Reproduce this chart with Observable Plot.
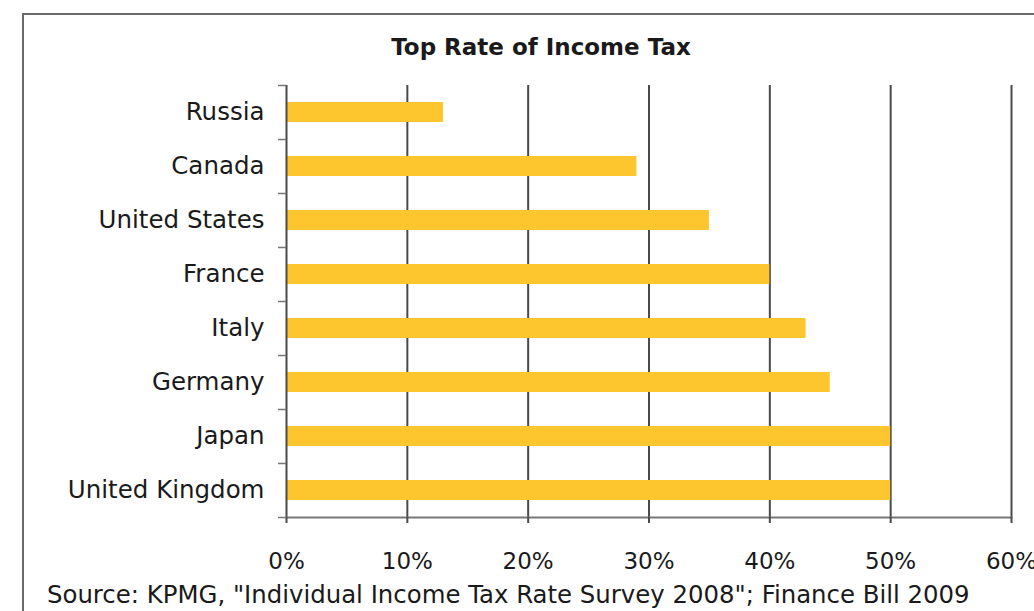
<!DOCTYPE html>
<html>
<head>
<meta charset="utf-8">
<script src="https://cdn.jsdelivr.net/npm/d3@7"></script>
<script src="https://cdn.jsdelivr.net/npm/@observablehq/plot@0.6"></script>
<style>
  html, body { margin: 0; padding: 0; background: #fff; }
  #wrap { position: relative; width: 1034px; height: 611px; overflow: hidden; font-family: "DejaVu Sans", sans-serif; }
  #box { position: absolute; left: 22px; top: 13px; width: 1100px; height: 700px; border: 2px solid #6b6b6b; box-sizing: border-box; }
  #title { position: absolute; left: 0; width: 1082px; top: 34px; text-align: center; font-weight: bold; font-size: 23px; color: #1a1a1a; }
  #chart { position: absolute; left: 0; top: 0; }
  #source { position: absolute; left: 47px; top: 581px; font-size: 24.4px; line-height: 28px; color: #1a1a1a; white-space: nowrap; }
</style>
</head>
<body>
<div id="wrap">
  <div id="box"></div>
  <div id="title">Top Rate of Income Tax</div>
  <div id="chart"></div>
  <div id="source">Source: KPMG, "Individual Income Tax Rate Survey 2008"; Finance Bill 2009</div>
</div>
<script>
const countries = ["Russia", "Canada", "United States", "France", "Italy", "Germany", "Japan", "United Kingdom"];
const rates = [13, 29, 35, 40, 43, 45, 50, 50];
const xTicks = [0, 10, 20, 30, 40, 50, 60];

const data = countries.map((c, i) => ({country: c, rate: rates[i]}));
const barColor = "#fdc62e";
const lineColor = "#4a4a4a";

const chart = Plot.plot({
  width: 1034,
  height: 611,
  marginLeft: 286,
  marginRight: 23,
  marginTop: 85,
  marginBottom: 94,
  style: {fontFamily: "DejaVu Sans, sans-serif", fontSize: "23px", color: "#1a1a1a", background: "transparent"},
  x: {domain: [0, 60]},
  y: {domain: countries, paddingInner: 0.63, paddingOuter: 0.315},
  marks: [
    Plot.gridX(xTicks.slice(1), {stroke: lineColor, strokeOpacity: 1, strokeWidth: 2}),
    Plot.barX(data, {x: "rate", y: "country", fill: barColor}),
    Plot.ruleX([0], {stroke: lineColor, strokeWidth: 2}),
    Plot.frame({anchor: "bottom", stroke: "#777", strokeWidth: 2}),
    Plot.axisX({ticks: xTicks, tickFormat: d => d + "%", tickSize: 6, tickPadding: 29, stroke: lineColor, strokeWidth: 2, label: null, fill: "#1a1a1a"}),
    Plot.axisY({ticks: countries, tickSize: 0, tickPadding: 22, label: null, fill: "#1a1a1a", fontSize: 24.5}),
    Plot.axisY({ticks: countries, tickSize: 8, text: null, dy: -27, stroke: "#777", strokeWidth: 1.5, label: null}),
    Plot.axisY({ticks: [countries[countries.length - 1]], tickSize: 8, text: null, dy: 27, stroke: "#777", strokeWidth: 1.5, label: null})
  ]
});
document.getElementById("chart").appendChild(chart);
</script>
</body>
</html>
